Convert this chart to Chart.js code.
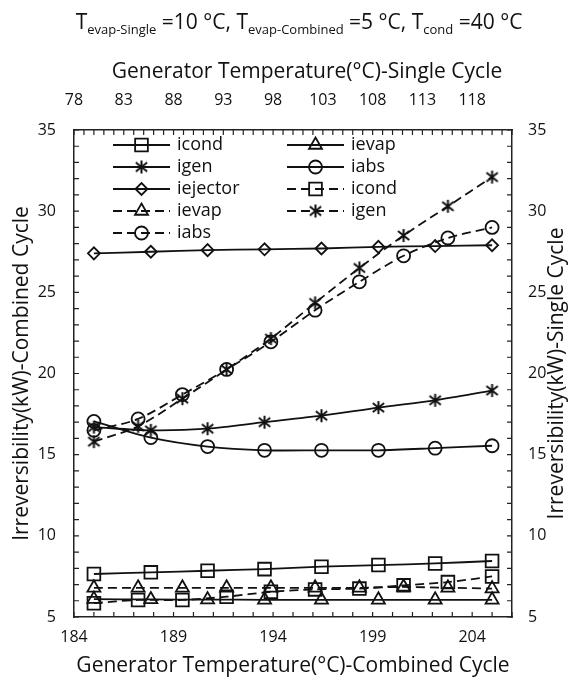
<!DOCTYPE html>
<html>
<head>
<meta charset="utf-8">
<script src="https://cdn.jsdelivr.net/npm/chart.js@4/dist/chart.umd.min.js"></script>
<style>
  html, body { margin: 0; padding: 0; background: #fff; }
  #wrap { width: 574px; height: 685px; }
</style>
</head>
<body>
<div id="wrap"><canvas id="irrChart" width="574" height="685"></canvas></div>
<script>
// generator temperatures
var combinedTemp = [185, 187.86, 190.71, 193.57, 196.43, 199.29, 202.14, 205];
var singleTemp = [80, 84.44, 88.89, 93.33, 97.78, 102.22, 106.67, 111.11, 115.56, 120];

// combined cycle irreversibility (kW)
var icondComb = [7.65, 7.75, 7.85, 7.95, 8.1, 8.2, 8.3, 8.45];
var ievapComb = [6.1, 6.08, 6.07, 6.06, 6.06, 6.06, 6.06, 6.06];
var igenComb = [16.7, 16.5, 16.6, 17.0, 17.4, 17.9, 18.35, 18.95];
var iabsComb = [17.05, 16.05, 15.5, 15.27, 15.27, 15.27, 15.4, 15.55];
var iejectorComb = [27.4, 27.5, 27.6, 27.65, 27.7, 27.8, 27.85, 27.9];

// single cycle irreversibility (kW)
var icondSingle = [5.85, 6.05, 6.05, 6.25, 6.55, 6.7, 6.75, 6.95, 7.15, 7.5];
var ievapSingle = [6.8, 6.8, 6.8, 6.8, 6.8, 6.8, 6.8, 6.85, 6.8, 6.75];
var igenSingle = [15.8, 16.75, 18.45, 20.25, 22.15, 24.35, 26.5, 28.5, 30.3, 32.1];
var iabsSingle = [16.5, 17.2, 18.7, 20.25, 21.95, 23.9, 25.65, 27.25, 28.35, 29.0];

// tick labels
var combinedTicks = [184, 189, 194, 199, 204];
var singleTicks = [78, 83, 88, 93, 98, 103, 108, 113, 118];
var irrTicks = [5, 10, 15, 20, 25, 30, 35];

var FONT = '"Open Sans", Lato, sans-serif';
var INK = '#111';
var TITLE_PX = 21;

// excel style asterisk marker
function makeAsterisk(size) {
    var c = document.createElement('canvas');
    c.width = size; c.height = size;
    var g = c.getContext('2d');
    var m = size / 2, r = size / 2 - 1;
    g.strokeStyle = INK;
    g.lineWidth = 2;
    g.beginPath();
    g.moveTo(m, m - r); g.lineTo(m, m + r);
    g.moveTo(m - r * 0.87, m - r * 0.7); g.lineTo(m + r * 0.87, m + r * 0.7);
    g.moveTo(m - r * 0.87, m + r * 0.7); g.lineTo(m + r * 0.87, m - r * 0.7);
    g.stroke();
    return c;
}
var asterisk = makeAsterisk(15);

function pts(xs, ys) {
    return ys.map(function (v, i) { return { x: xs[i], y: v }; });
}

function series(label, xs, ys, style, radius, dashed) {
    return {
        label: label,
        data: pts(xs, ys),
        xAxisID: dashed ? 'x2' : 'x',
        yAxisID: dashed ? 'y2' : 'y',
        borderColor: INK,
        borderWidth: 1.8,
        borderDash: dashed ? [9, 5] : [],
        tension: 0.3,
        pointStyle: style,
        pointRadius: radius,
        pointBorderWidth: 1.8,
        pointBorderColor: INK,
        pointBackgroundColor: 'rgba(255,255,255,0)',
        fill: false
    };
}

var datasets = [
    series('icond', combinedTemp, icondComb, 'rect', 9, false),
    series('ievap', combinedTemp, ievapComb, 'triangle', 7.5, false),
    series('igen', combinedTemp, igenComb, asterisk, 7, false),
    series('iabs', combinedTemp, iabsComb, 'circle', 6.5, false),
    series('iejector', combinedTemp, iejectorComb, 'rectRot', 6, false),
    series('icond', singleTemp, icondSingle, 'rect', 9, true),
    series('ievap', singleTemp, ievapSingle, 'triangle', 7.5, true),
    series('igen', singleTemp, igenSingle, asterisk, 7, true),
    series('iabs', singleTemp, iabsSingle, 'circle', 6.5, true)
];

function fixedTicks(list) {
    return function (scale) {
        scale.ticks = list.map(function (v) { return { value: v }; });
    };
}

function axis(position, min, max, list, pad, size) {
    var horiz = position === 'top' || position === 'bottom';
    return {
        type: 'linear',
        position: position,
        min: min,
        max: max,
        afterBuildTicks: fixedTicks(list),
        afterFit: function (s) {
            if (horiz) s.height = size; else s.width = size;
        },
        grid: { drawOnChartArea: false, drawTicks: false },
        border: { display: true, color: '#222', width: 1.5 },
        ticks: {
            color: INK,
            font: { family: FONT, size: 16 },
            padding: pad,
            maxRotation: 0,
            autoSkip: false
        }
    };
}

// small inward ticks at every unit on all four sides
var minorTicks = {
    id: 'minorTicks',
    afterDraw: function (chart) {
        var ctx = chart.ctx, a = chart.chartArea, len = 5;
        ctx.save();
        ctx.strokeStyle = '#222';
        ctx.lineWidth = 1.2;
        ctx.beginPath();
        ['x', 'x2', 'y', 'y2'].forEach(function (id) {
            var s = chart.scales[id];
            for (var v = Math.ceil(s.min); v <= s.max; v++) {
                var p = s.getPixelForValue(v);
                if (id === 'x') { ctx.moveTo(p, a.bottom); ctx.lineTo(p, a.bottom - len); }
                if (id === 'x2') { ctx.moveTo(p, a.top); ctx.lineTo(p, a.top + len); }
                if (id === 'y') { ctx.moveTo(a.left, p); ctx.lineTo(a.left + len, p); }
                if (id === 'y2') { ctx.moveTo(a.right, p); ctx.lineTo(a.right - len, p); }
            }
        });
        ctx.stroke();
        ctx.restore();
    }
};

// title with subscripts and the four axis titles
function drawRich(ctx, parts, cx, y) {
    var w = 0;
    parts.forEach(function (p) {
        ctx.font = (p.sub ? '13px ' : TITLE_PX + 'px ') + FONT;
        p.w = ctx.measureText(p.t).width;
        w += p.w;
    });
    var x = cx - w / 2;
    parts.forEach(function (p) {
        ctx.font = (p.sub ? '13px ' : TITLE_PX + 'px ') + FONT;
        ctx.fillText(p.t, x, y + (p.sub ? 5 : 0));
        x += p.w;
    });
}

function verticalTitle(ctx, text, x, y) {
    ctx.save();
    ctx.fillStyle = INK;
    ctx.textAlign = 'center';
    ctx.textBaseline = 'middle';
    ctx.font = TITLE_PX + 'px ' + FONT;
    ctx.translate(x, y);
    ctx.rotate(-Math.PI / 2);
    ctx.fillText(text, 0, 0);
    ctx.restore();
}

var titles = {
    id: 'titles',
    afterDraw: function (chart) {
        var ctx = chart.ctx, a = chart.chartArea;
        var midY = (a.top + a.bottom) / 2;
        ctx.save();
        ctx.fillStyle = INK;
        ctx.textAlign = 'left';
        ctx.textBaseline = 'alphabetic';
        drawRich(ctx, [
            { t: 'T' }, { t: 'evap-Single', sub: true }, { t: ' =10 °C, T' },
            { t: 'evap-Combined', sub: true }, { t: ' =5 °C, T' },
            { t: 'cond', sub: true }, { t: ' =40 °C' }
        ], 299, 29);

        ctx.textAlign = 'center';
        ctx.textBaseline = 'middle';
        ctx.font = TITLE_PX + 'px ' + FONT;
        ctx.fillText('Generator Temperature(°C)-Single Cycle', 307, 72);
        ctx.fillText('Generator Temperature(°C)-Combined Cycle', 293, 666);
        ctx.restore();

        verticalTitle(ctx, 'Irreversibility(kW)-Combined Cycle', 22, midY);
        verticalTitle(ctx, 'Irreversibility(kW)-Single Cycle', 557, midY);
    }
};

// two column legend in the upper left of the plot
var boxLegend = {
    id: 'boxLegend',
    afterDraw: function (chart) {
        var ctx = chart.ctx, a = chart.chartArea;
        var colX = [a.left + 39, a.left + 213];
        var rowY = a.top + 15, rowH = 22, lineW = 57;
        chart.data.datasets.forEach(function (ds, i) {
            var x = colX[i % 2], y = rowY + Math.floor(i / 2) * rowH;
            ctx.save();
            ctx.strokeStyle = INK;
            ctx.lineWidth = ds.borderWidth;
            ctx.setLineDash(ds.borderDash);
            ctx.beginPath();
            ctx.moveTo(x, y); ctx.lineTo(x + lineW, y);
            ctx.stroke();
            ctx.setLineDash([]);
            ctx.fillStyle = 'rgba(255,255,255,0)';
            ctx.lineWidth = ds.pointBorderWidth;
            Chart.helpers.drawPoint(ctx, {
                pointStyle: ds.pointStyle,
                radius: ds.pointRadius,
                borderWidth: ds.pointBorderWidth,
                rotation: 0
            }, x + lineW / 2, y);
            ctx.fillStyle = INK;
            ctx.font = '18px ' + FONT;
            ctx.textBaseline = 'middle';
            ctx.fillText(ds.label, x + lineW + 7, y);
            ctx.restore();
        });
    }
};

var chart = new Chart(document.getElementById('irrChart').getContext('2d'), {
    type: 'line',
    data: { datasets: datasets },
    options: {
        responsive: false,
        animation: false,
        layout: { padding: 0 },
        plugins: {
            legend: { display: false },
            title: { display: false },
            tooltip: { enabled: false }
        },
        scales: {
            x: axis('bottom', 184, 206, combinedTicks, 11, 68),
            x2: axis('top', 78, 122, singleTicks, 20, 130),
            y: axis('left', 5, 35, irrTicks, 18, 74),
            y2: axis('right', 5, 35, irrTicks, 16, 62)
        }
    },
    plugins: [minorTicks, titles, boxLegend]
});
</script>
</body>
</html>
